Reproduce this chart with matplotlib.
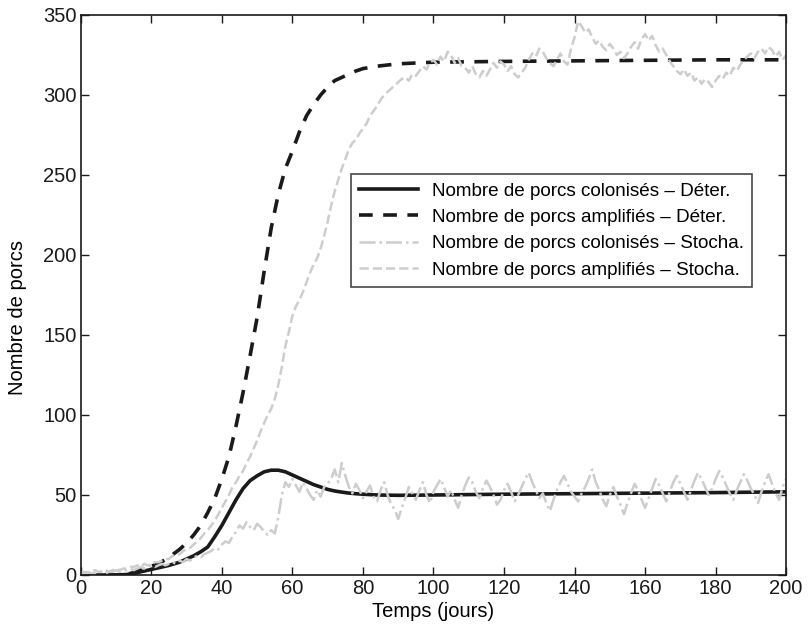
import numpy as np
import matplotlib
matplotlib.use("Agg")
import matplotlib.pyplot as plt

plt.rcParams['font.family'] = ['Liberation Sans', 'DejaVu Sans']

# Deterministic model
t_det = [0, 5, 10, 13, 15, 18, 20, 22, 25, 28, 30, 32, 34, 36, 38, 40, 42, 44, 46, 48,
         50, 52, 54, 56, 58, 60, 62, 64, 66, 68, 70, 72, 74, 76, 78, 80, 84, 90, 100,
         120, 150, 180, 200]
amp_det = [0, 0, 0, 0.5, 1.5, 4, 5.5, 7, 11, 16, 20, 25, 31, 39, 48, 60, 74, 93, 114, 137,
           161, 190, 217, 238, 254, 265, 277, 287, 294, 300, 305, 309, 311, 313, 315, 316.5,
           318, 319.5, 320.5, 321, 321.5, 322, 322]
col_det = [0, 0, 0, 0.3, 1, 2.5, 3.5, 4.5, 6, 8, 10, 12, 14.5, 17.5, 24, 31, 39, 47, 54, 59,
           62, 64.5, 65.5, 65.5, 64.5, 62.5, 60.5, 58.5, 56.5, 55, 53.5, 52.5, 51.8, 51.2,
           50.8, 50.5, 50, 49.8, 50, 50.5, 51, 51.5, 52]

# Stochastic model, one value per day
col_sto = [1, 1, 2, 1, 1, 2, 2, 1, 2, 2, 3,
           2, 3, 3, 4, 3, 4, 5, 4, 5, 6,
           5, 6, 7, 6, 7, 8, 7, 9, 8, 10,
           9, 11, 12, 11, 13, 14, 15, 17, 16, 19,
           21, 20, 24, 27, 31, 29, 33, 30, 28, 32,
           30, 27, 25, 28, 26, 36, 50, 58, 55, 60,
           56, 52, 58, 54, 50, 47, 53, 49, 55, 57,
           60, 66, 58, 70, 62, 55, 51, 57, 53, 48,
           52, 56, 49, 46, 53, 58, 50, 44, 41, 35,
           42, 48, 55, 51, 47, 53, 58, 50, 45, 52,
           56, 60, 55, 49, 53, 47, 42, 50, 56, 61,
           58, 52, 48, 54, 59, 55, 50, 44, 47, 53,
           57, 52, 46, 50, 55, 60, 64, 58, 53, 48,
           51, 45, 40, 47, 53, 58, 62, 57, 52, 49,
           46, 51, 55, 60, 66, 58, 53, 47, 43, 50,
           55, 49, 44, 38, 45, 51, 57, 53, 47, 42,
           48, 54, 60, 56, 51, 46, 52, 58, 62, 57,
           52, 47, 53, 59, 64, 60, 55, 50, 54, 60,
           65, 61, 56, 51, 47, 53, 58, 63, 59, 54,
           50, 45, 52, 58, 63, 57, 51, 47, 55, 60]
amp_sto = [2, 2, 1, 2, 3, 2, 2, 3, 2, 3, 4,
           3, 4, 4, 5, 5, 6, 5, 7, 6, 7,
           8, 8, 9, 10, 10, 12, 12, 13, 15, 16,
           17, 19, 21, 23, 26, 28, 31, 34, 38, 42,
           46, 50, 55, 58, 62, 65, 70, 74, 79, 84,
           90, 95, 100, 104, 110, 119, 130, 143, 152, 162,
           168, 172, 177, 183, 189, 194, 198, 204, 212, 221,
           231, 240, 247, 254, 260, 266, 270, 272, 276, 279,
           282, 287, 290, 293, 297, 300, 302, 304, 306, 308,
           310, 311, 309, 313, 312, 315, 318, 316, 320, 322,
           319, 324, 321, 327, 325, 320, 323, 318, 317, 314,
           318, 313, 311, 315, 312, 316, 320, 317, 321, 319,
           315, 318, 313, 311, 314, 317, 322, 326, 324, 329,
           327, 323, 320, 318, 322, 326, 321, 319, 329, 336,
           346, 343, 339, 341, 336, 332, 334, 330, 328, 332,
           329, 325, 327, 323, 326, 330, 333, 329, 335, 338,
           334, 337, 331, 327, 329, 325, 321, 318, 315, 313,
           316, 312, 314, 309, 311, 307, 310, 308, 305, 309,
           312, 310, 314, 312, 317, 315, 319, 322, 324, 326,
           323, 327, 329, 326, 330, 328, 324, 327, 322, 325]

x_ticks = [0, 20, 40, 60, 80, 100, 120, 140, 160, 180, 200]
y_ticks = [0, 50, 100, 150, 200, 250, 300, 350]

labels = ["Nombre de porcs colonisés – Déter.",
          "Nombre de porcs amplifiés – Déter.",
          "Nombre de porcs colonisés – Stocha.",
          "Nombre de porcs amplifiés – Stocha."]

fig = plt.figure(figsize=(8.08, 6.25), dpi=100)
ax = fig.add_axes([0.100, 0.080, 0.873, 0.896])

gray = '#cdcdcd'
ax.plot(t_det, col_det, color='#1a1a1a', lw=2.6, ls='-', label=labels[0])
ax.plot(t_det, amp_det, color='#1a1a1a', lw=2.6, ls=(0, (3.8, 2.9)), label=labels[1])
ax.plot(np.arange(len(col_sto)), col_sto, color=gray, lw=1.8, ls='-.', label=labels[2])
ax.plot(np.arange(len(amp_sto)), amp_sto, color=gray, lw=1.8, ls='--', label=labels[3])

ax.set_xlim(0, 200)
ax.set_ylim(0, 350)
ax.set_xticks(x_ticks)
ax.set_yticks(y_ticks)
ax.tick_params(direction='in', top=True, right=True, length=6, width=1,
               labelsize=14.5, colors='#1a1a1a', pad=3)
for s in ax.spines.values():
    s.set_linewidth(1.2)
    s.set_color('#1a1a1a')
ax.set_xlabel("Temps (jours)", fontsize=14.5, labelpad=3)
ax.set_ylabel("Nombre de porcs", fontsize=14.5)
ax.yaxis.set_label_coords(-0.076, 0.46)

leg = ax.legend(loc='upper right', bbox_to_anchor=(0.952, 0.716), fontsize=13.6,
                frameon=True, fancybox=False, edgecolor='#1a1a1a',
                handlelength=3.1, borderpad=0.45, labelspacing=0.48,
                handletextpad=0.75, borderaxespad=0)
leg.get_frame().set_linewidth(1.2)

fig.savefig("out.png", dpi=100)
